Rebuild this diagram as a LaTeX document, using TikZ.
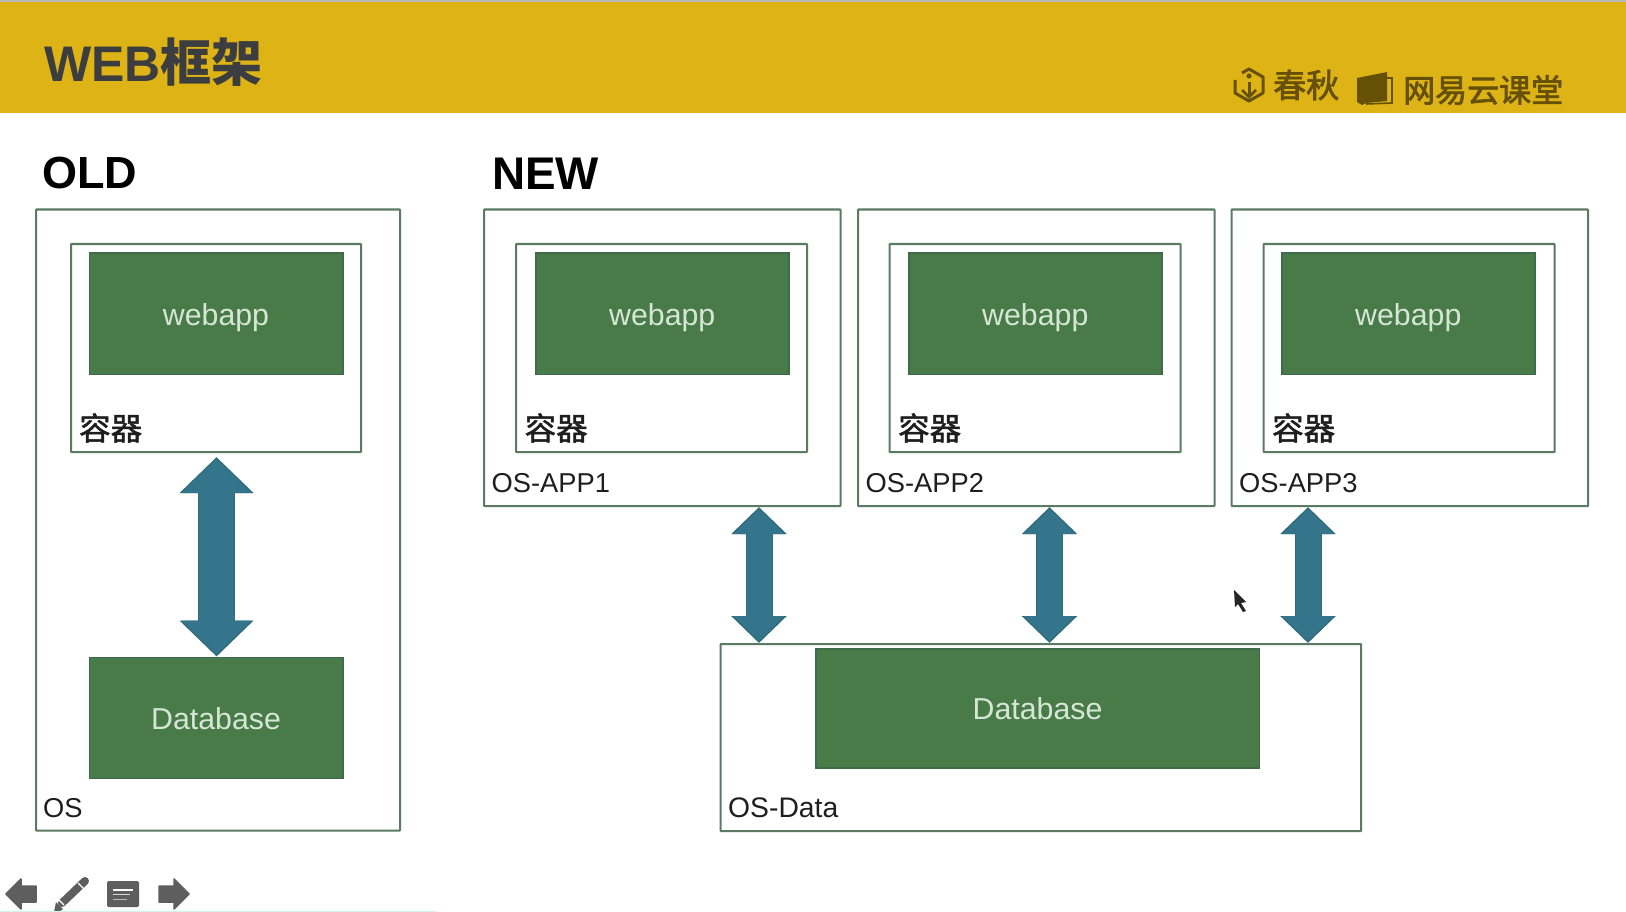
\documentclass[tikz,border=0pt]{standalone}
\usepackage{fontspec}
\setmainfont{Liberation Sans}
\newfontfamily\cjkfont{Noto Sans CJK SC}
\newfontfamily\cjkmed[FakeBold=1.6]{Noto Sans CJK SC}
\newfontfamily\cjklogo[FakeBold=2.2]{Noto Sans CJK SC}
\usetikzlibrary{arrows.meta,calc}
\definecolor{hdr}{HTML}{DDB315}
\definecolor{topline}{HTML}{B8B8B8}
\definecolor{titlec}{HTML}{3B3D40}
\definecolor{boxline}{HTML}{5A7A62}
\definecolor{greenbox}{HTML}{487B48}
\definecolor{greenline}{HTML}{3F6B4A}
\definecolor{greentext}{HTML}{D6E6D6}
\definecolor{blueA}{HTML}{35758C}
\definecolor{blueD}{HTML}{2F6C78}
\definecolor{labelc}{HTML}{1E1E1E}
\definecolor{logoc}{HTML}{655006}
\definecolor{toolc}{HTML}{5E5E5E}
\definecolor{seam}{HTML}{CFF5E5}
\tikzset{
  x=1pt,y=-1pt,
  framebox/.style={draw=boxline,line width=2.1pt,fill=white,inner sep=0pt,anchor=north west,rounded corners=0.6pt},
  appbox/.style={draw=greenline,line width=1.6pt,fill=greenbox,inner sep=0pt,anchor=north west,text=greentext,font=\fontsize{30.3}{32}\selectfont},
  lbl/.style={inner sep=0pt,text=labelc,anchor=west,font=\fontsize{27.3}{30}\selectfont},
  cjklbl/.style={inner sep=0pt,text=labelc,anchor=west,font=\cjkmed\fontsize{31.5}{33}\selectfont},
  headline/.style={inner sep=0pt,text=black,anchor=west,font=\bfseries\fontsize{45}{48}\selectfont},
  fatbigout/.style={line width=37pt,blueD,{Triangle[width=72pt,length=36pt]}-{Triangle[width=72pt,length=36pt]}},
  fatbigin/.style={line width=35pt,blueA,shorten <=2pt,shorten >=2pt,{Triangle[width=68pt,length=34pt]}-{Triangle[width=68pt,length=34pt]}},
  fatsmallout/.style={line width=27pt,blueD,{Triangle[width=54pt,length=27pt]}-{Triangle[width=54pt,length=27pt]}},
  fatsmallin/.style={line width=25pt,blueA,shorten <=2pt,shorten >=2pt,{Triangle[width=50pt,length=25pt]}-{Triangle[width=50pt,length=25pt]}},
  logo/.style={inner sep=0pt,text=logoc,anchor=west,font=\cjklogo\fontsize{32}{35}\selectfont},
  tool/.style={fill=toolc,draw=toolc,line width=1.5pt,line join=round},
}
\newcommand{\fatlink}[3]{%
  \draw[fat#1out] (#2) -- (#3);
  \draw[fat#1in] (#2) -- (#3);
}
\begin{document}
\begin{tikzpicture}
\useasboundingbox (0,0) rectangle (1626,912);
\fill[white] (0,0) rectangle (1626,912);
% header
\fill[hdr] (0,2) rectangle (1626,113);
\fill[topline] (0,0) rectangle (1626,2);
\node[inner sep=0pt,anchor=west,text=titlec,font=\fontsize{50}{52}\selectfont\bfseries] (title) at (44,62.5) {WEB{\cjkfont\bfseries\fontsize{51}{52}\selectfont 框架}};
% logos
\draw[logoc,line width=3pt,line join=round] (1242,73) -- (1249,69) -- (1263,77) -- (1263,93) -- (1249,101) -- (1235,93) -- (1235,80);
\fill[logoc] (1249,76) circle (2.6pt);
\draw[logoc,line width=3pt] (1249,82) -- (1249,97);
\draw[logoc,line width=2.5pt] (1242,90) -- (1249,97) -- (1256,90);
\node[logo,font=\cjklogo\fontsize{33}{35}\selectfont] (chunqiu) at (1273,85) {春秋};
\fill[logoc] (1357,78) -- (1387,72) -- (1387,101) -- (1366,103) -- (1362,105) -- (1357,102) -- cycle;
\draw[logoc,line width=1.6pt] (1387,78) -- (1392,78) -- (1392,103) -- (1366,104);
\node[logo] (wangyi) at (1403,90) {网易云课堂};
% headings
\node[headline] (old) at (42,173.5) {OLD};
\node[headline,font=\bfseries\fontsize{45.8}{48}\selectfont] (new) at (492,173.5) {NEW};
% OLD
\node[framebox,minimum width=364pt,minimum height=621pt] (os) at (35,208.5) {};
\node[framebox,minimum width=290pt,minimum height=208pt] (c0) at (70,243) {};
\node[appbox,minimum width=253.5pt,minimum height=121pt] (w0) at (88.5,252.5) {\raisebox{-4pt}[\height][\depth]{webapp}};
\node[cjklbl] (c0t) at (79,428) {容器};
\node[appbox,minimum width=253.5pt,minimum height=121pt] (db0) at (88.5,656.5) {\raisebox{-1pt}[\height][\depth]{Database}};
\node[lbl] (ost) at (43,808) {OS};
\coordinate (c0tip) at ($(c0.south)+(0.5,4)$);
\coordinate (db0tip) at (c0tip |- db0.north);
\fatlink{big}{c0tip}{db0tip}
% NEW
\foreach \n/\ax/\cx/\wx/\t in {1/483/515/535/OS-APP1,2/857/888.5/908/OS-APP2,3/1230.5/1262.5/1281/OS-APP3}{
  \node[framebox,minimum width=356.5pt,minimum height=296.5pt] (app\n) at (\ax,208.5) {};
  \node[framebox,minimum width=291pt,minimum height=208pt] (c\n) at (\cx,243) {};
  \node[appbox,minimum width=253pt,minimum height=121pt] (w\n) at (\wx,252.5) {\raisebox{-4pt}[\height][\depth]{webapp}};
  \node[cjklbl,anchor=west] (c\n t) at ($(\cx,428)+(9.5,0)$) {容器};
  \node[lbl] (app\n t) at ($(\ax,483)+(8.5,0)$) {\t};
}
\node[framebox,minimum width=640.5pt,minimum height=187pt] (data) at (719.5,643) {};
\node[appbox,minimum width=443.5pt,minimum height=119pt] (db1) at (815,648) {Database};
\node[lbl,font=\fontsize{28.3}{30}\selectfont] (datat) at (728,808) {OS-Data};
\coordinate (x1) at (759,0);
\coordinate (x2) at (1049.5,0);
\coordinate (x3) at (1308,0);
\coordinate (t1) at (x1 |- app1.south); \coordinate (b1) at (x1 |- data.north);
\coordinate (t2) at (x2 |- app2.south); \coordinate (b2) at (x2 |- data.north);
\coordinate (t3) at (x3 |- app3.south); \coordinate (b3) at (x3 |- data.north);
\fatlink{small}{t1}{b1}
\fatlink{small}{t2}{b2}
\fatlink{small}{t3}{b3}
% mouse pointer
\fill[black!85] (1234,590) -- (1246,602) -- (1241,603) -- (1246,611) -- (1243,612) -- (1238,604) -- (1235,607) -- cycle;
% toolbar
\path[tool] (6,894) -- (21,879) -- (21,886) -- (36,886) -- (36,902) -- (21,902) -- (21,909) -- cycle;
\draw[toolc,line width=8pt,line cap=round] (62,903) -- (85,881);
\draw[white,line width=1.2pt] (78,883) -- (84,889);
\draw[white,line width=1.2pt] (58,899) -- (64,905);
\fill[toolc] (54,912) -- (56,902) -- (63,909) -- (59,912) -- cycle;
\fill[toolc,rounded corners=1.5pt] (107,881) rectangle (139,907);
\draw[white,line width=2pt] (113,889.5) -- (133,889.5);
\draw[white!75!toolc,line width=1.6pt] (113,894.5) -- (130,894.5);
\draw[white!60!toolc,line width=1.6pt] (113,899.5) -- (127,899.5);
\path[tool] (189,894) -- (174,879) -- (174,886) -- (159,886) -- (159,902) -- (174,902) -- (174,909) -- cycle;
\fill[seam] (0,911) rectangle (437,912);
\end{tikzpicture}
\end{document}
